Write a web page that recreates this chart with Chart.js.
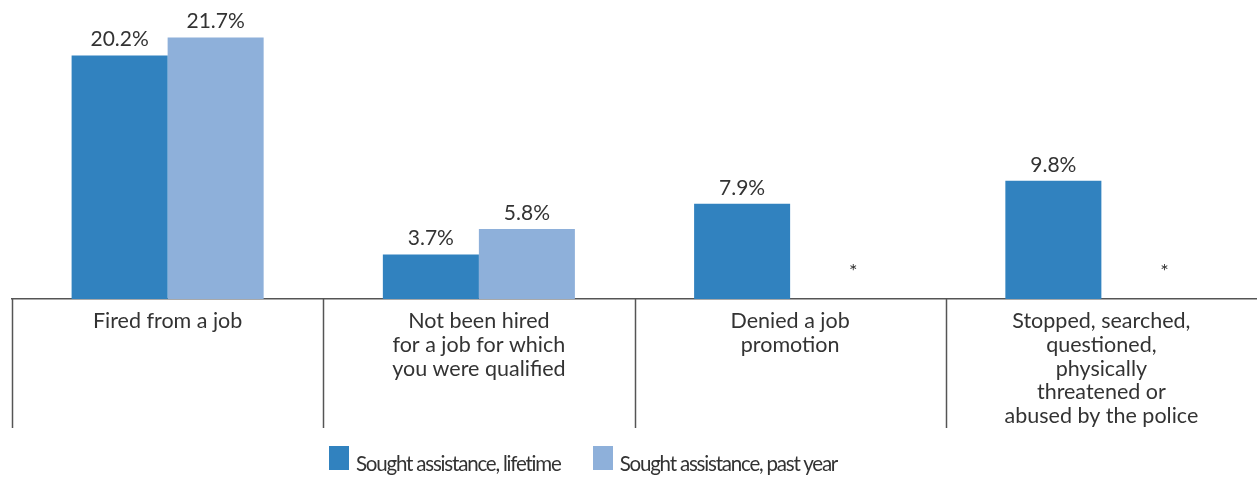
<!DOCTYPE html>
<html>
<head>
<meta charset="utf-8">
<script src="https://cdn.jsdelivr.net/npm/chart.js@4.4.1/dist/chart.umd.min.js"></script>
<style>
  body { margin: 0; background: #fff; }
  .wrap { position: relative; width: 1257px; height: 477px; }
  #legend { position: absolute; left: 329px; top: 446px; display: flex; font-family: Lato, sans-serif; font-size: 20.5px; color: #333; letter-spacing: -1.2px; }
  #legend .item { display: flex; align-items: flex-start; margin-right: 32px; }
  #legend .box { width: 20px; height: 24px; margin-right: 7px; }
  #legend .txt { line-height: 24px; position: relative; top: 5px; }
</style>
</head>
<body>
<div class="wrap">
  <canvas id="chart" width="1257" height="477"></canvas>
  <div id="legend"></div>
</div>
<script>
const categories = [
  ["Fired from a job"],
  ["Not been hired", "for a job for which", "you were qualified"],
  ["Denied a job", "promotion"],
  ["Stopped, searched,", "questioned,", "physically", "threatened or", "abused by the police"]
]
const lifetime = [20.2, 3.7, 7.9, 9.8]
const pastYear = [21.7, 5.8, null, null]
const seriesNames = ["Sought assistance, lifetime", "Sought assistance, past year"]
const colors = ["#3182bf", "#8eb0da"]

const textColor = "#333"
const lineColor = "#555"

const valueLabels = {
  id: "valueLabels",
  afterDatasetsDraw(chart) {
    const ctx = chart.ctx
    ctx.save()
    ctx.fillStyle = textColor
    ctx.textAlign = "center"
    chart.data.datasets.forEach((ds, di) => {
      const meta = chart.getDatasetMeta(di)
      meta.data.forEach((bar, i) => {
        if (ds.data[i] == null) {
          ctx.font = "20px Lato"
          ctx.textBaseline = "middle"
          ctx.fillText("*", bar.x + 15, chart.chartArea.bottom - 27)
        } else {
          ctx.font = "21px Lato"
          ctx.textBaseline = "alphabetic"
          ctx.fillText(ds.data[i].toFixed(1) + "%", bar.x, bar.y - 9)
        }
      })
    })
    ctx.restore()
  }
}

const separators = {
  id: "separators",
  afterDraw(chart) {
    const ctx = chart.ctx
    const x = chart.scales.x
    const step = x.width / categories.length
    ctx.save()
    ctx.strokeStyle = lineColor
    ctx.lineWidth = 1.5
    for (let i = 0; i < categories.length; i++) {
      const px = Math.round(x.getPixelForValue(i) - step / 2) + 0.5
      ctx.beginPath()
      ctx.moveTo(px, chart.chartArea.bottom)
      ctx.lineTo(px, chart.chartArea.bottom + 129)
      ctx.stroke()
    }
    ctx.restore()
  }
}

const chart = new Chart(document.getElementById("chart"), {
  type: "bar",
  data: {
    labels: categories,
    datasets: [
      { label: seriesNames[0], data: lifetime, backgroundColor: colors[0] },
      { label: seriesNames[1], data: pastYear, backgroundColor: colors[1] }
    ]
  },
  options: {
    responsive: false,
    animation: false,
    layout: { padding: { left: 12, right: 0, top: 0, bottom: 48 } },
    plugins: { legend: { display: false }, tooltip: { enabled: false } },
    datasets: { bar: { categoryPercentage: 0.617, barPercentage: 1 } },
    scales: {
      x: {
        grid: { display: true, drawOnChartArea: false, drawTicks: false },
        border: { display: true, color: lineColor, width: 1.5 },
        ticks: { color: textColor, font: { family: "Lato", size: 21.5, lineHeight: 1.11 }, padding: 10, maxRotation: 0, autoSkip: false },
        afterFit(scale) { scale.height = 130 }
      },
      y: { display: false, min: 0, max: 24.8 }
    }
  },
  plugins: [valueLabels, separators]
})

const legend = document.getElementById("legend")
chart.data.datasets.forEach(ds => {
  const item = document.createElement("div")
  item.className = "item"
  item.innerHTML = `<span class="box" style="background:${ds.backgroundColor}"></span><span class="txt">${ds.label}</span>`
  legend.appendChild(item)
})
</script>
</body>
</html>
